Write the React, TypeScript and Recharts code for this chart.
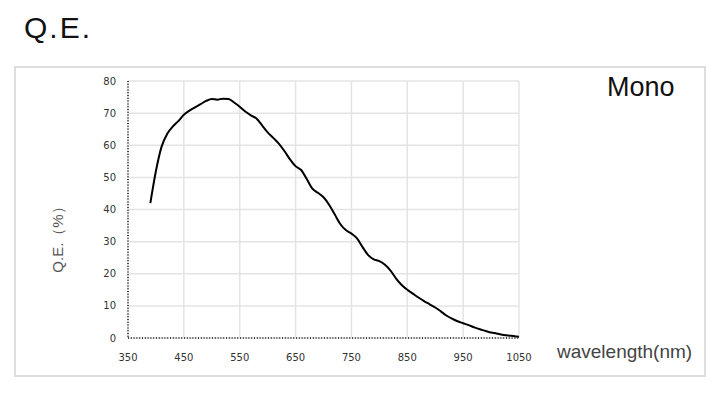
import React from "react";
import { LineChart, Line, XAxis, YAxis, CartesianGrid } from "recharts";

const wavelengths = [
  390, 400, 410, 420, 430, 440, 450, 460, 470, 480, 490, 500, 510, 520, 530, 540, 550, 560, 570, 580,
  590, 600, 610, 620, 630, 640, 650, 660, 670, 680, 690, 700, 710, 720, 730, 740, 750, 760, 770, 780,
  790, 800, 810, 820, 830, 840, 850, 860, 870, 880, 890, 900, 910, 920, 930, 940, 950, 960, 970, 980,
  990, 1000, 1010, 1020, 1030, 1040, 1050,
];

const qeMono = [
  42, 52, 59.5, 63.5, 65.8, 67.5, 69.5, 70.8, 71.8, 72.8, 73.8, 74.4, 74.2, 74.5, 74.4, 73.3, 72, 70.5, 69.3, 68.3,
  66.2, 64, 62.3, 60.5, 58.2, 55.6, 53.5, 52.3, 49.5, 46.5, 45.2, 43.8, 41.5, 38.5, 35.5, 33.6, 32.5, 31, 28.3, 25.8,
  24.5, 23.9, 22.8, 21, 18.5, 16.5, 15, 13.8, 12.6, 11.5, 10.5, 9.5, 8.3, 7, 6, 5.2, 4.6, 4, 3.3, 2.7,
  2.2, 1.7, 1.4, 1.0, 0.8, 0.6, 0.4,
];

const xTicks = [350, 450, 550, 650, 750, 850, 950, 1050];
const yTicks = [0, 10, 20, 30, 40, 50, 60, 70, 80];

const data = wavelengths.map((w, i) => ({ wavelength: w, qe: qeMono[i] }));

const tickStyle = { fontSize: 10, fill: "#333", fontFamily: "DejaVu Sans" };

export default function App() {
  return (
    <div style={{ position: "absolute", left: 0, top: 0, width: 715, height: 400, background: "#fff", fontFamily: "'Liberation Sans', Arial, sans-serif" }}>
      <div style={{ position: "absolute", left: 24, top: 11, fontSize: 30, letterSpacing: 2, color: "#111" }}>Q.E.</div>
      <div style={{ position: "absolute", left: 14, top: 66, width: 688, height: 307, border: "2px solid #dedede", boxSizing: "content-box" }} />
      <div style={{ position: "absolute", left: 607, top: 72, fontSize: 27, color: "#111" }}>Mono</div>
      <div style={{ position: "absolute", left: 557, top: 341, fontSize: 19, color: "#444", whiteSpace: "nowrap" }}>
        wavelength(nm)
      </div>
      <div
        style={{
          position: "absolute",
          left: 58,
          top: 236,
          fontSize: 15,
          color: "#555",
          transform: "translate(-50%, -50%) rotate(-90deg)",
          whiteSpace: "nowrap",
        }}
      >
        Q.E.（%）
      </div>
      <div style={{ position: "absolute", left: 0, top: 0 }}>
        <LineChart width={715} height={400} data={data} margin={{ top: 81, right: 196, left: 88, bottom: 32 }}>
          <CartesianGrid stroke="#e4e4e4" strokeWidth={1.5} />
          <XAxis
            dataKey="wavelength"
            type="number"
            domain={[350, 1050]}
            ticks={xTicks}
            height={30}
            tick={tickStyle}
            tickLine={false}
            tickMargin={10}
            axisLine={{ stroke: "#444", strokeWidth: 2, strokeDasharray: "1 1.8" }}
          />
          <YAxis
            type="number"
            domain={[0, 80]}
            ticks={yTicks}
            width={40}
            tick={tickStyle}
            tickLine={false}
            tickMargin={6}
            axisLine={{ stroke: "#444", strokeWidth: 2, strokeDasharray: "1 1.8" }}
          />
          <Line type="monotone" dataKey="qe" stroke="#000" strokeWidth={2} dot={false} isAnimationActive={false} />
        </LineChart>
      </div>
    </div>
  );
}
